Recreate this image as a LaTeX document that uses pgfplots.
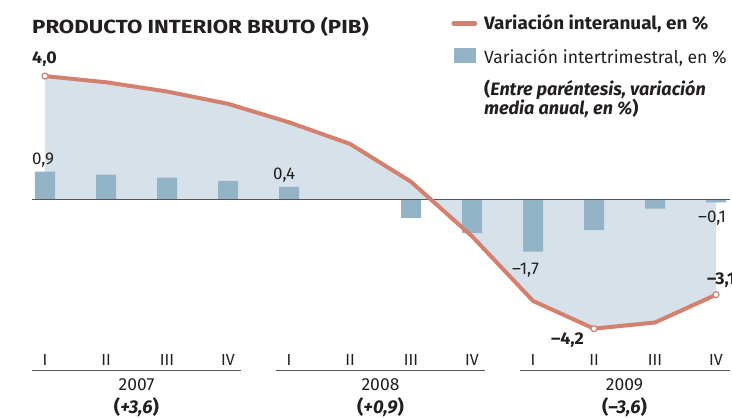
\documentclass[border=0pt]{standalone}
\usepackage{fontspec}
\setmainfont{Fira Sans}[BoldFeatures={FakeStretch=1.05}]
\newfontfamily\titlefont{Fira Sans}[FakeStretch=1.17]
\usepackage{pgfplots}
\pgfplotsset{compat=1.18}
\definecolor{linec}{RGB}{212,128,110}
\definecolor{barc}{RGB}{147,180,199}
\definecolor{areac}{RGB}{214,225,233}
\definecolor{txt}{RGB}{35,31,32}
\definecolor{axc}{RGB}{85,85,85}
\tikzset{
  lab/.style={font=\fontsize{17bp}{20bp}\selectfont, text=txt, inner sep=0pt},
  ttl/.style={font=\fontsize{19bp}{22bp}\selectfont\titlefont\bfseries, text=txt, inner sep=0pt},
}
\begin{document}
\begin{tikzpicture}
\useasboundingbox (-32bp,-73bp) rectangle (700bp,345bp);
\begin{axis}[
  scale only axis, width=698bp, height=300bp,
  xmin=-0.21311, xmax=11.2295, ymin=-4.7305, ymax=5.0097,
  axis lines=none, clip=false,
]
% shaded area under year-on-year line
\addplot[fill=areac, draw=none] coordinates {
 (0,4.0) (1,3.8) (2,3.5) (3,3.1) (4,2.5) (5,1.8) (6,0.57) (7,-1.2) (8,-3.3) (9,-4.2) (10,-4.0) (11,-3.1)
} \closedcycle;
% quarter-on-quarter bars
\addplot[ybar, bar width=20bp, fill=barc, draw=none] coordinates {
 (0,0.9) (1,0.8) (2,0.7) (3,0.6) (4,0.4) (5,0.0) (6,-0.6) (7,-1.1) (8,-1.7) (9,-1.0) (10,-0.3) (11,-0.1)
};
\draw[axc, line width=1.2bp] (axis cs:-0.21311,0) -- (axis cs:11.2295,0);
% year-on-year line
\addplot[linec, line width=4bp, line join=round, line cap=round] coordinates {
 (0,4.0) (1,3.8) (2,3.5) (3,3.1) (4,2.5) (5,1.8) (6,0.57) (7,-1.2) (8,-3.3) (9,-4.2) (10,-4.0) (11,-3.1)
};
\addplot[only marks, mark=*, mark size=3bp, mark options={fill=white, draw=linec, line width=1.2bp}] coordinates {(0,4.0) (9,-4.2) (11,-3.1)};
% data labels
\node[lab, anchor=base west, font=\fontsize{17bp}{20bp}\selectfont\bfseries] at (axis cs:-0.213,4.416) {4,0};
\node[lab, anchor=base west] at (axis cs:-0.213,1.114) {0,9};
\node[lab, anchor=base west] at (axis cs:3.738,0.627) {0,4};
\node[lab, anchor=base west] at (axis cs:7.656,-2.432) {–1,7};
\node[lab, anchor=base west] at (axis cs:10.705,-0.747) {–0,1};
\node[lab, anchor=base west, font=\fontsize{17bp}{20bp}\selectfont\bfseries] at (axis cs:8.295,-4.73) {–4,2};
\node[lab, anchor=base west, font=\fontsize{17bp}{20bp}\selectfont\bfseries] at (axis cs:10.852,-2.75) {–3,1};
% title and legend
\node[ttl, anchor=base west] at (axis cs:-0.213,5.367) {PRODUCTO INTERIOR BRUTO (PIB)};
\draw[linec, line width=4.5bp, line cap=round] (axis cs:6.70,5.714) -- (axis cs:7.05,5.714);
\node[lab, anchor=base west, font=\fontsize{18bp}{20bp}\selectfont\bfseries] at (axis cs:7.197,5.497) {Variación interanual, en \%};
\fill[barc] (axis cs:6.705,4.903) rectangle (axis cs:7.066,4.435);
\node[lab, anchor=base west, font=\fontsize{17.6bp}{20bp}\selectfont] at (axis cs:7.197,4.416) {Variación intertrimestral, en \%};
\node[lab, anchor=base west, font=\fontsize{18bp}{20bp}\selectfont\bfseries] at (axis cs:7.197,3.386) {(\textit{Entre paréntesis, variación}};
\node[lab, anchor=base west, font=\fontsize{18bp}{20bp}\selectfont\bfseries] at (axis cs:7.197,2.737) {\textit{media anual, en \%})};
% category axis
\draw[axc, line width=1.2bp] (axis cs:-0.213,-5.565) -- (axis cs:3.213,-5.565);
\draw[axc, line width=1.2bp] (axis cs:3.787,-5.565) -- (axis cs:7.213,-5.565);
\draw[axc, line width=1.2bp] (axis cs:7.787,-5.565) -- (axis cs:11.2295,-5.565);
\node[lab, anchor=base, font=\fontsize{16bp}{20bp}\selectfont] at (axis cs:0,-5.403) {I};
\node[lab, anchor=base, font=\fontsize{16bp}{20bp}\selectfont] at (axis cs:1,-5.403) {II};
\node[lab, anchor=base, font=\fontsize{16bp}{20bp}\selectfont] at (axis cs:2,-5.403) {III};
\node[lab, anchor=base, font=\fontsize{16bp}{20bp}\selectfont] at (axis cs:3,-5.403) {IV};
\node[lab, anchor=base, font=\fontsize{16bp}{20bp}\selectfont] at (axis cs:4,-5.403) {I};
\node[lab, anchor=base, font=\fontsize{16bp}{20bp}\selectfont] at (axis cs:5,-5.403) {II};
\node[lab, anchor=base, font=\fontsize{16bp}{20bp}\selectfont] at (axis cs:6,-5.403) {III};
\node[lab, anchor=base, font=\fontsize{16bp}{20bp}\selectfont] at (axis cs:7,-5.403) {IV};
\node[lab, anchor=base, font=\fontsize{16bp}{20bp}\selectfont] at (axis cs:8,-5.403) {I};
\node[lab, anchor=base, font=\fontsize{16bp}{20bp}\selectfont] at (axis cs:9,-5.403) {II};
\node[lab, anchor=base, font=\fontsize{16bp}{20bp}\selectfont] at (axis cs:10,-5.403) {III};
\node[lab, anchor=base, font=\fontsize{16bp}{20bp}\selectfont] at (axis cs:11,-5.403) {IV};
\node[lab, anchor=base, font=\fontsize{17.5bp}{20bp}\selectfont] at (axis cs:1.5,-6.192) {2007};
\node[lab, anchor=base, font=\fontsize{17.5bp}{20bp}\selectfont] at (axis cs:5.5,-6.192) {2008};
\node[lab, anchor=base, font=\fontsize{17.5bp}{20bp}\selectfont] at (axis cs:9.5,-6.192) {2009};
\node[lab, anchor=base, font=\fontsize{18.5bp}{20bp}\selectfont\bfseries] at (axis cs:1.5,-6.94) {(\textit{+3,6})};
\node[lab, anchor=base, font=\fontsize{18.5bp}{20bp}\selectfont\bfseries] at (axis cs:5.5,-6.94) {(\textit{+0,9})};
\node[lab, anchor=base, font=\fontsize{18.5bp}{20bp}\selectfont\bfseries] at (axis cs:9.5,-6.94) {(\textit{–3,6})};
\end{axis}
\end{tikzpicture}
\end{document}
